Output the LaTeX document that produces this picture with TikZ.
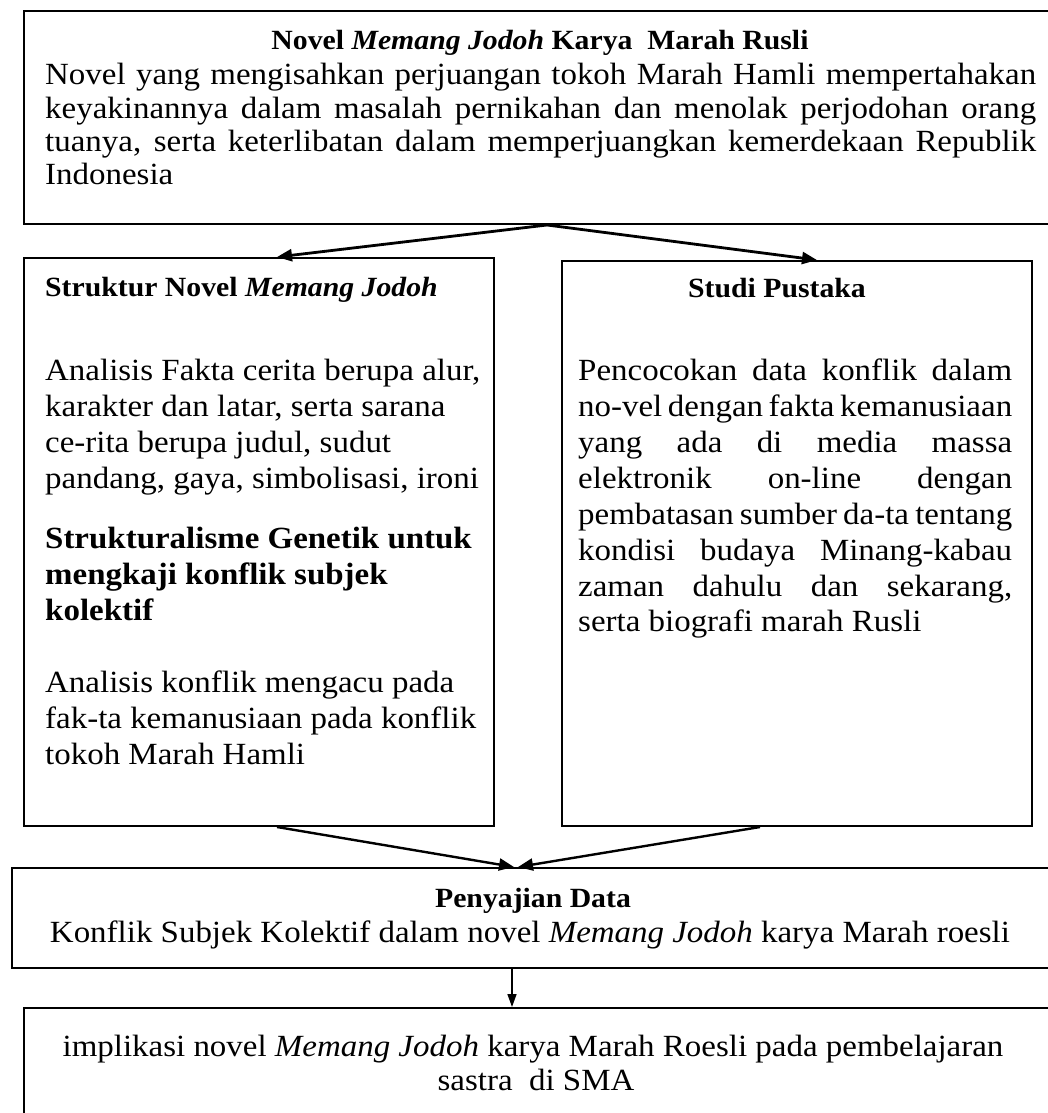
\documentclass[tikz,border=0pt]{standalone}
\usepackage{fontspec}
\setmainfont{Liberation Serif}[FakeStretch=1.07]
\usetikzlibrary{arrows.meta}
\newcommand{\bodyfont}{\fontsize{30.8}{34}\selectfont}
\newcommand{\headfont}{\fontsize{27.8}{34}\selectfont}
\tikzset{
  box/.style={draw, rectangle, line width=2pt, inner sep=0pt},
  ln/.style={inner sep=0pt, font=\bodyfont},
  hd/.style={inner sep=0pt, font=\headfont\bfseries},
  arrbig/.style={-{Triangle[length=15pt,width=12pt]}, line width=2.8pt},
  arrmid/.style={-{Triangle[length=15pt,width=12pt]}, line width=2.4pt},
  arrsmall/.style={-{Triangle[length=13pt,width=9pt]}, line width=1.6pt},
}
\begin{document}
\begin{tikzpicture}[x=1pt,y=-1pt]
\useasboundingbox (0,0) rectangle (1048,1113);
\clip (0,0) rectangle (1048,1113);
\fill[white] (0,0) rectangle (1048,1113);
% boxes
\node[box, minimum width=1046pt, minimum height=213pt] (top) at (547,117.5) {};
\node[box, minimum width=470pt, minimum height=568pt] (left) at (259,542) {};
\node[box, minimum width=470pt, minimum height=565pt] (right) at (797,543.5) {};
\node[box, minimum width=1048pt, minimum height=100pt] (pen) at (536,918) {};
\node[box, minimum width=1046pt, minimum height=122pt] (final) at (547,1069) {};
% top box text
\node[hd, anchor=base] (t0) at (540,50) {Novel \textit{Memang Jodoh} Karya~~Marah Rusli};
\node[ln, anchor=base west] (t1) at (45,85) {\makebox[991pt][s]{Novel yang mengisahkan perjuangan tokoh Marah Hamli mempertahakan}};
\node[ln, anchor=base west] (t2) at (45,118) {\makebox[991pt][s]{keyakinannya dalam masalah pernikahan dan menolak perjodohan orang}};
\node[ln, anchor=base west] (t3) at (45,151) {\makebox[991pt][s]{tuanya, serta keterlibatan dalam memperjuangkan kemerdekaan Republik}};
\node[ln, anchor=base west] (t4) at (45,184) {Indonesia};
% left box text
\node[hd, anchor=base west] (l0) at (45,296) {Struktur Novel \textit{Memang Jodoh}};
\node[ln, anchor=base west] (l1) at (45,380) {Analisis Fakta cerita berupa alur,};
\node[ln, anchor=base west] (l2) at (45,416) {karakter dan latar, serta sarana};
\node[ln, anchor=base west] (l3) at (45,452) {ce-rita berupa judul, sudut};
\node[ln, anchor=base west] (l4) at (45,488) {pandang, gaya, simbolisasi, ironi};
\node[ln, anchor=base west, font=\bodyfont\bfseries] (l5) at (45,548) {Strukturalisme Genetik untuk};
\node[ln, anchor=base west, font=\bodyfont\bfseries] (l6) at (45,584) {mengkaji konflik subjek};
\node[ln, anchor=base west, font=\bodyfont\bfseries] (l7) at (45,620) {kolektif};
\node[ln, anchor=base west] (l8) at (45,692) {Analisis konflik mengacu pada};
\node[ln, anchor=base west] (l9) at (45,728) {fak-ta kemanusiaan pada konflik};
\node[ln, anchor=base west] (l10) at (45,764) {tokoh Marah Hamli};
% right box text
\node[hd, anchor=base] (r0) at (777,297) {Studi Pustaka};
\node[ln, anchor=base west] (r1) at (578,380) {\makebox[434pt][s]{Pencocokan data konflik dalam}};
\node[ln, anchor=base west] (r2) at (578,416) {\makebox[434pt][s]{no-vel dengan fakta kemanusiaan}};
\node[ln, anchor=base west] (r3) at (578,452) {\makebox[434pt][s]{yang ada di media massa}};
\node[ln, anchor=base west] (r4) at (578,488) {\makebox[434pt][s]{elektronik on-line dengan}};
\node[ln, anchor=base west] (r5) at (578,524) {\makebox[434pt][s]{pembatasan sumber da-ta tentang}};
\node[ln, anchor=base west] (r6) at (578,560) {\makebox[434pt][s]{kondisi budaya Minang-kabau}};
\node[ln, anchor=base west] (r7) at (578,596) {\makebox[434pt][s]{zaman dahulu dan sekarang,}};
\node[ln, anchor=base west] (r8) at (578,631) {serta biografi marah Rusli};
% penyajian text
\node[hd, anchor=base] (p0) at (533,907) {Penyajian Data};
\node[ln, anchor=base] (p1) at (530,942) {Konflik Subjek Kolektif dalam novel \textit{Memang Jodoh} karya Marah roesli};
% final text
\node[ln, anchor=base] (f1) at (533,1056) {implikasi novel \textit{Memang Jodoh} karya Marah Roesli pada pembelajaran};
\node[ln, anchor=base] (f2) at (536,1090) {sastra~~di SMA};
% connectors
\draw[arrbig] (top.south) -- ([xshift=18pt]left.north);
\draw[arrbig] (top.south) -- ([xshift=20pt]right.north);
\draw[arrmid] ([xshift=18pt]left.south) -- ([xshift=-22pt]pen.north);
\draw[arrmid] ([xshift=-37pt]right.south) -- ([xshift=-18pt]pen.north);
\draw[arrsmall] ([xshift=-24pt]pen.south) -- ([xshift=-35pt]final.north);
\end{tikzpicture}
\end{document}
